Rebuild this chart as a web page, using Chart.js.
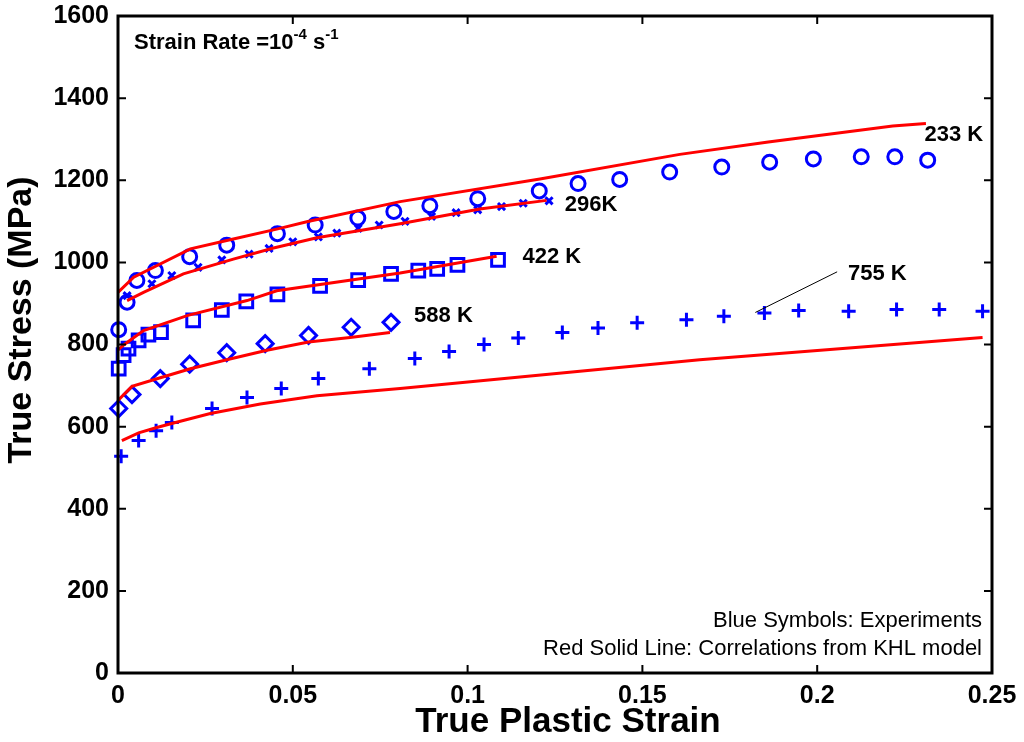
<!DOCTYPE html>
<html lang="en">
<head>
<meta charset="UTF-8">
<title>True Stress vs True Plastic Strain</title>
<script src="https://cdn.jsdelivr.net/npm/chart.js"></script>
<style>
  html, body { margin: 0; padding: 0; background: #fff; }
  canvas { display: block; }
</style>
</head>
<body>
<canvas id="myChart" width="1024" height="742"></canvas>
<script>
const FONT = '"Liberation Sans", Arial, Helvetica, sans-serif';
const BLUE = '#0000ff';
const RED = '#ff0000';

// experiments (blue symbols)
const exp233Strain = [0.0002, 0.0026, 0.0054, 0.0107, 0.0205, 0.0311, 0.0456, 0.0564, 0.0686, 0.0789, 0.0892, 0.1029, 0.1205, 0.1316, 0.1435, 0.1578, 0.1727, 0.1864, 0.1989, 0.2126, 0.2222, 0.2316];
const exp233Stress = [836, 903, 956, 980, 1014, 1042, 1070, 1091, 1108, 1124, 1138, 1155, 1174, 1192, 1202, 1220, 1232, 1244, 1252, 1257, 1257, 1249];

const exp296Strain = [0.0026, 0.0097, 0.0154, 0.0229, 0.0297, 0.0375, 0.0432, 0.05, 0.0573, 0.0626, 0.0687, 0.0747, 0.0821, 0.0897, 0.0967, 0.1029, 0.1097, 0.1159, 0.1233];
const exp296Stress = [919, 948, 968, 988, 1006, 1020, 1034, 1050, 1062, 1071, 1083, 1091, 1100, 1112, 1121, 1128, 1136, 1144, 1150];

const exp422Strain = [0.0002, 0.0016, 0.003, 0.0059, 0.0087, 0.0123, 0.0215, 0.0297, 0.0367, 0.0456, 0.0578, 0.0687, 0.0781, 0.0859, 0.0913, 0.0971, 0.1087];
const exp422Stress = [741, 774, 790, 810, 824, 830, 859, 884, 905, 922, 943, 957, 972, 980, 984, 994, 1006];

const exp588Strain = [0.0002, 0.004, 0.0121, 0.0205, 0.0311, 0.0421, 0.0545, 0.0667, 0.0781];
const exp588Stress = [644, 678, 717, 752, 780, 802, 822, 842, 854];

const exp755Strain = [0.0009, 0.0059, 0.0109, 0.0154, 0.0269, 0.0369, 0.0467, 0.0573, 0.0719, 0.0849, 0.0947, 0.1047, 0.1145, 0.1271, 0.1373, 0.1485, 0.1626, 0.1733, 0.1849, 0.1947, 0.209, 0.2227, 0.2349, 0.2473];
const exp755Stress = [528, 566, 590, 610, 644, 671, 693, 717, 741, 766, 783, 800, 816, 829, 840, 853, 860, 869, 877, 883, 881, 885, 885, 881];

// KHL model (red lines)
const khl233Strain = [0, 0.0045, 0.0207, 0.033, 0.0454, 0.054, 0.0807, 0.1207, 0.1607, 0.186, 0.2216, 0.2311];
const khl233Stress = [927, 964, 1033, 1057, 1081, 1099, 1148, 1203, 1263, 1293, 1332, 1338];

const khl296Strain = [0.0026, 0.0073, 0.0187, 0.033, 0.0445, 0.0569, 0.0807, 0.1035, 0.1226];
const khl296Stress = [907, 927, 972, 1008, 1035, 1060, 1094, 1130, 1151];

const khl422Strain = [0, 0.0021, 0.0073, 0.02, 0.0369, 0.0454, 0.0807, 0.1083];
const khl422Stress = [787, 802, 834, 871, 907, 931, 974, 1015];

const khl588Strain = [0, 0.004, 0.0121, 0.0207, 0.0311, 0.0426, 0.0545, 0.0664, 0.0778];
const khl588Stress = [664, 698, 719, 741, 763, 786, 806, 817, 829];

const khl755Strain = [0.0011, 0.0059, 0.0111, 0.0159, 0.0264, 0.0407, 0.0569, 0.0807, 0.1664, 0.2473];
const khl755Stress = [566, 585, 598, 609, 632, 655, 675, 693, 763, 817];

// temperature labels, anchored in data units (strain, stress)
const labelText = ['233 K', '296K', '422 K', '588 K', '755 K'];
const labelStrain = [0.2307, 0.1278, 0.1157, 0.0847, 0.2088];
const labelStress = [1310, 1139, 1014, 869, 973];
// leader line for 755 K
const leaderStrain = [0.2057, 0.1823];
const leaderStress = [977, 878];

function zip(xs, ys) {
  return xs.map((x, i) => ({ x: x, y: ys[i] }));
}

function expSet(xs, ys, style, radius) {
  return {
    data: zip(xs, ys),
    showLine: false,
    pointStyle: style,
    pointRadius: radius,
    pointBorderWidth: 3,
    pointBorderColor: BLUE,
    pointBackgroundColor: 'rgba(0,0,0,0)',
    clip: false
  };
}

function khlSet(xs, ys) {
  return {
    data: zip(xs, ys),
    showLine: true,
    borderColor: RED,
    borderWidth: 3,
    pointRadius: 0,
    tension: 0,
    fill: false
  };
}

const framePlugin = {
  id: 'frame',
  afterDraw(chart) {
    const ctx = chart.ctx;
    const a = chart.chartArea;
    const xs = chart.scales.x;
    const ys = chart.scales.y;
    ctx.save();

    // inward tick marks on all four sides
    ctx.strokeStyle = '#000';
    ctx.lineWidth = 2;
    const tl = 8;
    ctx.beginPath();
    xs.ticks.forEach(t => {
      const px = xs.getPixelForValue(t.value);
      ctx.moveTo(px, a.bottom); ctx.lineTo(px, a.bottom - tl);
      ctx.moveTo(px, a.top); ctx.lineTo(px, a.top + tl);
    });
    ys.ticks.forEach(t => {
      const py = ys.getPixelForValue(t.value);
      ctx.moveTo(a.left, py); ctx.lineTo(a.left + tl, py);
      ctx.moveTo(a.right, py); ctx.lineTo(a.right - tl, py);
    });
    ctx.stroke();

    // box
    ctx.lineWidth = 3;
    ctx.strokeRect(a.left, a.top, a.right - a.left, a.bottom - a.top);

    // leader line
    ctx.lineWidth = 1;
    ctx.beginPath();
    ctx.moveTo(xs.getPixelForValue(leaderStrain[0]), ys.getPixelForValue(leaderStress[0]));
    ctx.lineTo(xs.getPixelForValue(leaderStrain[1]), ys.getPixelForValue(leaderStress[1]));
    ctx.stroke();

    // axis titles
    ctx.fillStyle = '#000';
    ctx.font = 'bold 35px ' + FONT;
    ctx.textAlign = 'center';
    ctx.textBaseline = 'middle';
    ctx.fillText('True Plastic Strain', a.left + 450, a.bottom + 49);
    ctx.save();
    ctx.translate(22, a.top + 304);
    ctx.rotate(-Math.PI / 2);
    ctx.font = 'bold 34px ' + FONT;
    ctx.fillText('True Stress (MPa)', 0, 0);
    ctx.restore();

    // temperature labels
    ctx.font = 'bold 22px ' + FONT;
    ctx.textAlign = 'left';
    ctx.textBaseline = 'middle';
    labelText.forEach((txt, i) => {
      ctx.fillText(txt, xs.getPixelForValue(labelStrain[i]), ys.getPixelForValue(labelStress[i]));
    });

    // strain rate note with superscripts
    let x = a.left + 16;
    const y = a.top + 33;
    ctx.textBaseline = 'alphabetic';
    const parts = [['Strain Rate =10', 22, 0], ['-4', 15, -10], [' s', 22, 0], ['-1', 15, -10]];
    parts.forEach(p => {
      ctx.font = 'bold ' + p[1] + 'px ' + FONT;
      ctx.fillText(p[0], x, y + p[2]);
      x += ctx.measureText(p[0]).width;
    });

    // bottom-right notes
    ctx.font = '22px ' + FONT;
    ctx.textAlign = 'right';
    ctx.textBaseline = 'middle';
    ctx.fillText('Blue Symbols: Experiments', a.right - 10, a.bottom - 52);
    ctx.fillText('Red Solid Line: Correlations from KHL model', a.right - 10, a.bottom - 24);

    ctx.restore();
  }
};

const ctx = document.getElementById('myChart').getContext('2d');
new Chart(ctx, {
  type: 'scatter',
  data: {
    datasets: [
      khlSet(khl233Strain, khl233Stress),
      khlSet(khl296Strain, khl296Stress),
      khlSet(khl422Strain, khl422Stress),
      khlSet(khl588Strain, khl588Stress),
      khlSet(khl755Strain, khl755Stress),
      expSet(exp233Strain, exp233Stress, 'circle', 7),
      expSet(exp296Strain, exp296Stress, 'crossRot', 5),
      expSet(exp422Strain, exp422Stress, 'rect', 9),
      expSet(exp588Strain, exp588Stress, 'rectRot', 8),
      expSet(exp755Strain, exp755Stress, 'cross', 7)
    ]
  },
  plugins: [framePlugin],
  options: {
    responsive: false,
    animation: false,
    layout: { padding: { left: 0, right: 32, top: 16, bottom: 0 } },
    plugins: {
      legend: { display: false },
      tooltip: { enabled: false }
    },
    scales: {
      x: {
        type: 'linear',
        min: 0,
        max: 0.25,
        grid: { display: false, drawTicks: false },
        border: { display: false },
        ticks: {
          stepSize: 0.05,
          padding: 8,
          color: '#000',
          font: { family: FONT, size: 25, weight: 'bold' },
          callback: v => String(+v.toFixed(2))
        },
        title: { display: false },
        afterFit: s => { s.height = 69; s.paddingLeft = 0; s.paddingRight = 0; }
      },
      y: {
        min: 0,
        max: 1600,
        grid: { display: false, drawTicks: false },
        border: { display: false },
        ticks: {
          stepSize: 200,
          padding: 9,
          color: '#000',
          font: { family: FONT, size: 25, weight: 'bold' },
          callback: v => String(v)
        },
        title: { display: false },
        afterFit: s => { s.width = 118; s.paddingTop = 0; s.paddingBottom = 0; }
      }
    }
  }
});
</script>
</body>
</html>
